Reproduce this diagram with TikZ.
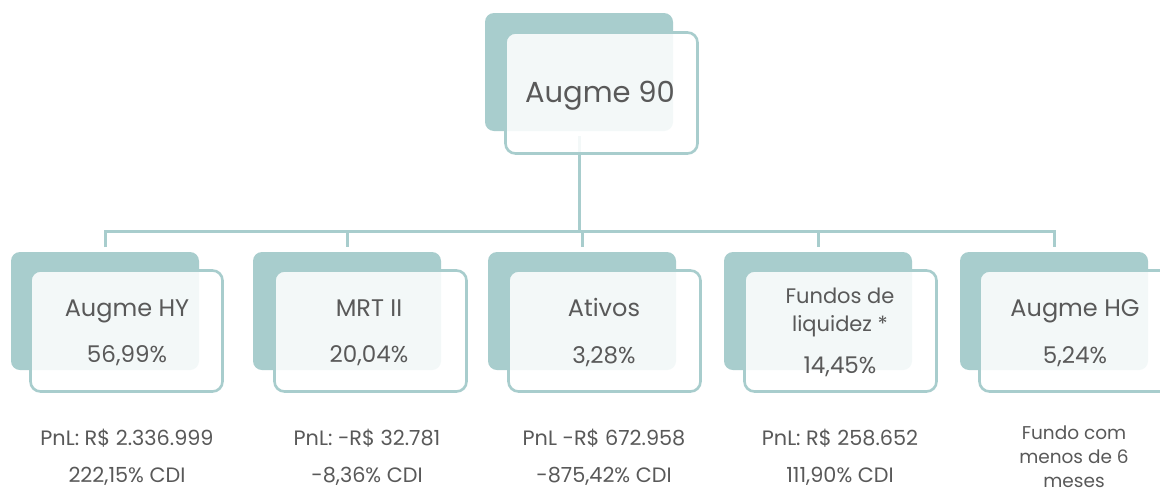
\documentclass[tikz,border=0pt]{standalone}
\usepackage{fontspec}
\setmainfont{Poppins}
\definecolor{teal}{HTML}{A8CDCD}
\definecolor{txt}{HTML}{595959}
\begin{document}
\begin{tikzpicture}[x=1pt,y=-1pt,
  back/.style={fill=teal,rounded corners=9pt,inner sep=0pt,outer sep=0pt,
    minimum width=188pt,minimum height=118pt,anchor=north west},
  front/.style={draw=teal,line width=2.6pt,fill=white,fill opacity=0.87,
    rounded corners=10pt,inner sep=0pt,outer sep=0pt,
    minimum width=192pt,minimum height=121pt,anchor=north west},
  conn/.style={draw=teal,line width=3pt},
  ttl/.style={text=txt,font=\fontsize{24}{26}\selectfont,anchor=base,inner sep=0pt},
  pct/.style={text=txt,font=\fontsize{23}{26}\selectfont,anchor=base,inner sep=0pt},
  sml/.style={text=txt,font=\fontsize{21}{24}\selectfont,anchor=base,inner sep=0pt},
  big/.style={text=txt,font=\fontsize{29}{32}\selectfont,anchor=base,inner sep=0pt},
  info/.style={text=txt,font=\fontsize{20.8}{24}\selectfont,anchor=base,inner sep=0pt},
  note/.style={text=txt,font=\fontsize{18.5}{22}\selectfont,anchor=base,inner sep=0pt}]
\useasboundingbox (0,0) rectangle (1160,488);
\fill[white] (0,0) rectangle (1160,488);
% back boxes
\node[back] (b0) at (485,13) {};
\node[back] (b1) at (11,252) {};
\node[back] (b2) at (253,252) {};
\node[back] (b3) at (488,252) {};
\node[back] (b4) at (724,252) {};
\node[back] (b5) at (960,252) {};
% connectors
\coordinate (bus) at (579,231);
\draw[conn] ([yshift=-5pt]b0.south) -- (bus);
\draw[conn] ([yshift=5pt]b1.north) |- (bus) -| ([yshift=5pt]b5.north);
\draw[conn] (bus -| b2.north) -- ([yshift=5pt]b2.north);
\draw[conn] (bus -| b3.north) -- ([yshift=5pt]b3.north);
\draw[conn] (bus -| b4.north) -- ([yshift=5pt]b4.north);
% front boxes
\node[front] (f0) at (505.5,32.5) {};
\node[front] (f1) at (30.5,270.5) {};
\node[front] (f2) at (274.5,270.5) {};
\node[front] (f3) at (508.5,270.5) {};
\node[front] (f4) at (744.5,270.5) {};
\node[front] (f5) at (979.5,270.5) {};
% texts
\node[big] (t0) at (600,102) {Augme 90};
\node[ttl] (t1a) at (127,316) {Augme HY};
\node[pct] (t1b) at (127,362) {56,99\%};
\node[ttl] (t2a) at (369,316) {MRT II};
\node[pct] (t2b) at (369,362) {20,04\%};
\node[ttl] (t3a) at (604,316) {Ativos};
\node[pct] (t3b) at (604,363) {3,28\%};
\node[sml] (t4a) at (840,303) {Fundos de};
\node[sml] (t4b) at (840,331) {liquidez *};
\node[pct] (t4c) at (840,373) {14,45\%};
\node[ttl] (t5a) at (1075,316) {Augme HG};
\node[pct] (t5b) at (1075,363) {5,24\%};
% below
\node[info] (p1) at (127,445) {PnL: R\$ 2.336.999};
\node[info] (c1) at (127,482) {222,15\% CDI};
\node[info] (p2) at (367,445) {PnL: -R\$ 32.781};
\node[info] (c2) at (367,482) {-8,36\% CDI};
\node[info] (p3) at (604,445) {PnL -R\$ 672.958};
\node[info] (c3) at (604,482) {-875,42\% CDI};
\node[info] (p4) at (840,445) {PnL: R\$ 258.652};
\node[info] (c4) at (840,482) {111,90\% CDI};
\node[note] (n1) at (1074,439) {Fundo com};
\node[note] (n2) at (1074,463) {menos de 6};
\node[note] (n3) at (1074,487) {meses};
\end{tikzpicture}
\end{document}
